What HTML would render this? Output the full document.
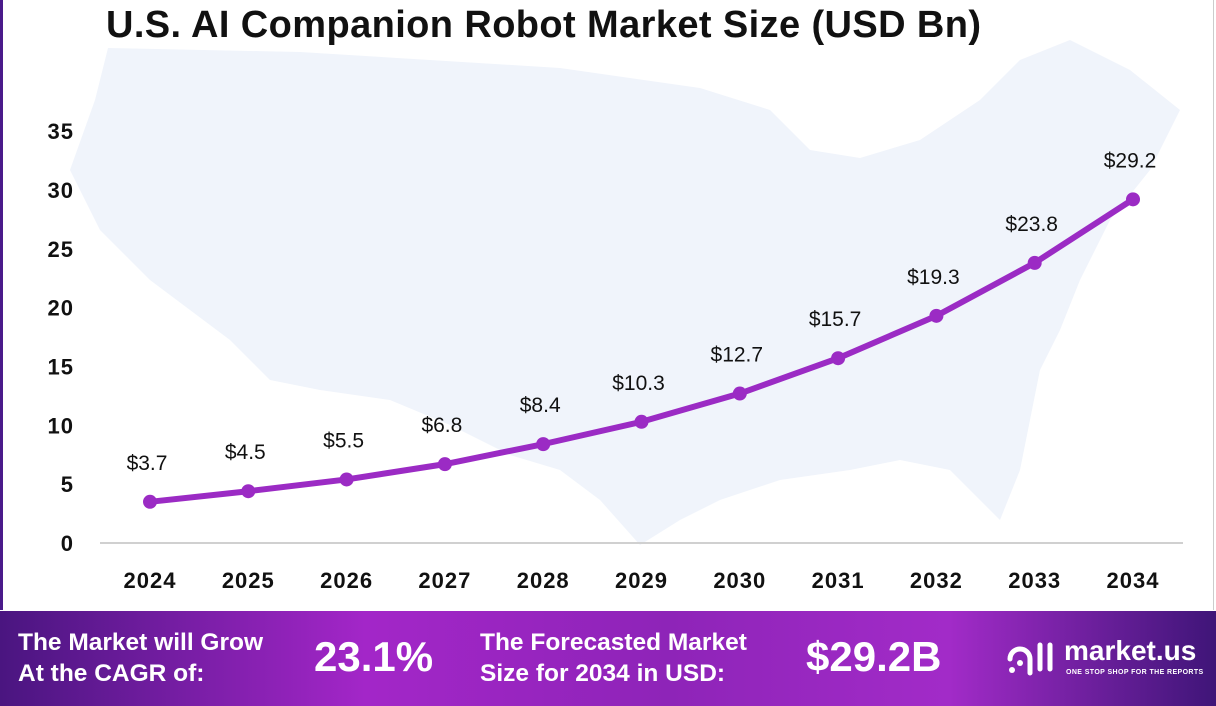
<!DOCTYPE html>
<html><head><meta charset="utf-8"><style>
body{margin:0;width:1216px;height:706px;overflow:hidden;background:#fff;font-family:"Liberation Sans",sans-serif;position:relative}
#frame{position:absolute;left:0;top:0;width:1214px;height:610px;border-left:3px solid #4a1a8a;border-right:1px solid #ccc;box-sizing:border-box}
h1{position:absolute;left:106px;top:4px;margin:0;font-size:38px;font-weight:bold;color:#111;letter-spacing:0.4px}
#footer{position:absolute;left:0;top:611px;width:1216px;height:95px;background:linear-gradient(90deg,#4a1580 0%,#a326c8 30%,#8e24b8 55%,#a22bc8 78%,#3f1578 100%);color:#fff;font-weight:bold}
.ft{position:absolute;font-size:24.5px;line-height:31px}
.big{position:absolute;font-size:42px;top:22px}
</style></head><body>
<div id="frame"></div>
<svg id="chart" width="1216" height="610" style="position:absolute;left:0;top:0">
<path fill="#f0f4fb" d="M108 48 L300 52 L560 68 L700 88 L770 110 L810 150 L860 158 L920 140 L980 100 L1020 60 L1070 40 L1130 70 L1180 110 L1150 170 L1110 220 L1080 280 L1060 330 L1040 370 L1030 420 L1020 470 L1000 520 L980 500 L950 470 L900 460 L850 470 L780 480 L720 500 L680 520 L640 545 L600 500 L560 470 L510 455 L450 425 L390 400 L320 390 L270 380 L230 340 L150 280 L100 230 L70 170 L95 100 Z"/>
<g id="yaxis"></g><g id="xaxis"></g><g id="series"></g>
</svg>
<h1>U.S. AI Companion Robot Market Size (USD Bn)</h1>
<div id="footer">
<div class="ft" style="left:18px;top:16px">The Market will Grow<br>At the CAGR of:</div>
<div class="big" style="left:314px">23.1%</div>
<div class="ft" style="left:480px;top:16px">The Forecasted Market<br>Size for 2034 in USD:</div>
<div class="big" style="left:806px">$29.2B</div>
<svg style="position:absolute;left:1006px;top:28px" width="52" height="40">
<path d="M4 20 A10 10 0 0 1 24 20 L24 34" fill="none" stroke="#fff" stroke-width="5" stroke-linecap="round"/>
<circle cx="6" cy="31" r="3" fill="#fff"/><circle cx="14" cy="24" r="3" fill="#fff"/>
<line x1="34" y1="6" x2="34" y2="30" stroke="#fff" stroke-width="5" stroke-linecap="round"/>
<line x1="44" y1="6" x2="44" y2="30" stroke="#fff" stroke-width="5" stroke-linecap="round"/>
</svg>
<div style="position:absolute;left:1064px;top:24px;font-size:28px">market.us</div>
<div style="position:absolute;left:1066px;top:58px;font-size:7px;letter-spacing:0.4px">ONE STOP SHOP FOR THE REPORTS</div>
</div>
<script>
const years=["2024","2025","2026","2027","2028","2029","2030","2031","2032","2033","2034"];
const values=[3.5,4.4,5.4,6.7,8.4,10.3,12.7,15.7,19.3,23.8,29.2];
const labels=["$3.7","$4.5","$5.5","$6.8","$8.4","$10.3","$12.7","$15.7","$19.3","$23.8","$29.2"];
const yTicks=[0,5,10,15,20,25,30,35];
const NS="http://www.w3.org/2000/svg";
const x=i=>150+i*98.3, y=v=>543-v*11.77;
function mk(t,a,p){const e=document.createElementNS(NS,t);for(const k in a)e.setAttribute(k,a[k]);p.appendChild(e);return e;}
const ya=document.getElementById('yaxis'),xa=document.getElementById('xaxis'),s=document.getElementById('series');
const base=mk('line',{x1:100,x2:1183,y1:543,y2:543,stroke:'#d0d0d0','stroke-width':2},xa);


yTicks.forEach(t=>{const e=mk('text',{x:74,y:y(t)+8,'text-anchor':'end','font-size':22,'font-weight':'bold',fill:'#111','letter-spacing':1},ya);e.textContent=t;

});
years.forEach((yr,i)=>{const e=mk('text',{x:x(i),y:588,'text-anchor':'middle','font-size':22,'font-weight':'bold',fill:'#111','letter-spacing':1},xa);e.textContent=yr;

});
const line=mk('polyline',{points:values.map((v,i)=>x(i)+','+y(v)).join(' '),fill:'none',stroke:'#9b2bc4','stroke-width':6,'stroke-linejoin':'round'},s);


values.forEach((v,i)=>{const c=mk('circle',{cx:x(i),cy:y(v),r:7,fill:'#9b2bc4'},s);


const t=mk('text',{x:x(i)-3,y:y(v)-32,'text-anchor':'middle','font-size':21,fill:'#111'},s);t.textContent=labels[i];

});
</script>
</body></html>
